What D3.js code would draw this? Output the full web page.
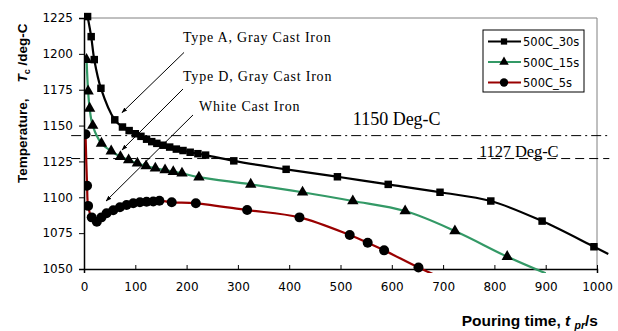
<!DOCTYPE html>
<html>
<head>
<meta charset="utf-8">
<script src="https://cdn.jsdelivr.net/npm/d3@7"></script>
<style>
  body { margin: 0; background: #fff; }
  svg { display: block; }
  .tick text { font-family: "DejaVu Sans", sans-serif; font-size: 12px; fill: #000; }
  .note { font-family: "Liberation Serif", "Times New Roman", serif; fill: #000; }
</style>
</head>
<body>
<div id="chart"></div>
<script>
// series values, [pouring time s, temperature deg-C]
const s30 = [[7,1226],[14,1212],[20,1196],[33,1176],[60,1154],[75,1149],[88,1146.5],[100,1144.3],[111,1142.5],
  [122,1140.5],[132,1138.8],[142,1137.6],[154,1136.3],[167,1135],[180,1133.6],[193,1132.6],[207,1131.4],
  [222,1130.4],[237,1129.4],[292,1125.4],[394,1119.5],[494,1114.3],[593,1109],[694,1103.5],[793,1097.4],
  [893,1083.4],[994,1065.5],[1022,1060.5]];
const s15 = [[5,1196],[8,1174],[11,1162],[17,1150],[34,1137.6],[53,1132.2],[71,1128.3],[87,1126],[104,1123.7],
  [121,1121.8],[139,1120.2],[158,1119],[174,1117.8],[191,1116.7],[224,1114],[325,1109],[426,1103.5],
  [524,1097.4],[626,1090.4],[723,1076.5],[825,1058.6],[900,1047]];
const s5 = [[3,1144],[6,1108],[8,1094],[15,1086],[25,1083],[34,1086],[44,1088.8],[57,1091],[70,1093],[83,1094.6],
  [96,1095.8],[109,1096.5],[122,1096.9],[135,1097],[147,1097.6],[171,1096.5],[218,1095.8],[318,1091.1],
  [420,1086],[518,1073.7],[553,1068.3],[585,1063],[652,1051],[680,1046.5]];
const seriesNames = ["500C_30s", "500C_15s", "500C_5s"];
const xTicks = [0,100,200,300,400,500,600,700,800,900,1000];
const yTicks = [1050,1075,1100,1125,1150,1175,1200,1225];
const refLines = [1143, 1127];
const refLabels = ["1150 Deg-C", "1127 Deg-C"];
const notes = ["Type A, Gray Cast Iron", "Type D, Gray Cast Iron", "White Cast Iron"];

const width = 618, height = 331;
const margin = {top: 18, right: 21, bottom: 62, left: 84};
const iw = width - margin.left - margin.right;
const ih = height - margin.top - margin.bottom;

const svg = d3.select("#chart").append("svg")
  .attr("width", width).attr("height", height);

const defs = svg.append("defs");
defs.append("clipPath").attr("id", "clip")
  .append("rect").attr("x", 0).attr("y", -10).attr("width", iw + 13).attr("height", ih + 14);
defs.append("marker").attr("id", "arrow")
  .attr("viewBox", "0 0 10 10").attr("refX", 9).attr("refY", 5)
  .attr("markerWidth", 6).attr("markerHeight", 6).attr("orient", "auto")
  .append("path").attr("d", "M0,1.5 L10,5 L0,8.5 Z").attr("fill", "#000");

const g = svg.append("g").attr("transform", `translate(${margin.left},${margin.top})`);

const x = d3.scaleLinear().domain([0, 1000]).range([0, iw]);
const y = d3.scaleLinear().domain([1050, 1225]).range([ih, 0]);

// frame (top and right in grey)
g.append("path")
  .attr("d", `M0,0 H${iw} V${ih}`)
  .attr("fill", "none").attr("stroke", "#808080").attr("stroke-width", 1);

// reference lines
const refStyles = ["10,4,2,4", "9,5"];
refLines.forEach((v, i) => {
  g.append("line")
    .attr("x1", x(-25)).attr("x2", x(1024))
    .attr("y1", y(v)).attr("y2", y(v))
    .attr("stroke", "#000").attr("stroke-width", 1)
    .attr("stroke-dasharray", refStyles[i]);
});

g.append("text").attr("class", "note")
  .attr("x", x(524)).attr("y", y(1150.4))
  .attr("font-size", 18).text(refLabels[0]);
g.append("text").attr("class", "note")
  .attr("x", x(770)).attr("y", y(1128))
  .attr("font-size", 16.5).attr("letter-spacing", -0.1).text(refLabels[1]);

// annotations with arrows
const arrows = [
  {text: notes[0], tx: 193, ty: 1208.3, from: [195, 1201], to: [74, 1159]},
  {text: notes[1], tx: 193, ty: 1181, from: [193, 1175.5], to: [74, 1133]},
  {text: notes[2], tx: 224, ty: 1160, from: [212.5, 1157.4], to: [43, 1097.4]}
];
arrows.forEach(a => {
  g.append("text").attr("class", "note")
    .attr("x", x(a.tx)).attr("y", y(a.ty))
    .attr("font-size", 14).attr("letter-spacing", 0.8)
    .text(a.text);
  g.append("line")
    .attr("x1", x(a.from[0])).attr("y1", y(a.from[1]))
    .attr("x2", x(a.to[0])).attr("y2", y(a.to[1]))
    .attr("stroke", "#000").attr("stroke-width", 1)
    .attr("marker-end", "url(#arrow)");
});

// axes
const xAxis = g.append("g").attr("transform", `translate(0,${ih})`)
  .call(d3.axisBottom(x).tickValues(xTicks).tickFormat(d3.format("d")).tickSize(4).tickPadding(9));
const yAxis = g.append("g")
  .call(d3.axisLeft(y).tickValues(yTicks).tickFormat(d3.format("d")).tickSize(5).tickPadding(6));
[xAxis, yAxis].forEach(ax => {
  ax.select(".domain").attr("stroke", "#000").attr("stroke-width", 1.5);
  ax.selectAll(".tick line").attr("stroke", "#000");
});
xAxis.selectAll(".tick line").attr("y1", -4).attr("y2", 0);

// series
const series = [
  {name: seriesNames[0], data: s30, color: "#000000", shape: d3.symbolSquare, size: 56},
  {name: seriesNames[1], data: s15, color: "#339966", shape: d3.symbolTriangle, size: 56},
  {name: seriesNames[2], data: s5, color: "#990000", shape: d3.symbolCircle, size: 78}
];

const line = d3.line()
  .x(d => x(d[0])).y(d => y(d[1]))
  .curve(d3.curveCatmullRom.alpha(0.5));

const plot = g.append("g").attr("clip-path", "url(#clip)");
series.slice().reverse().forEach(s => {
  plot.append("path").datum(s.data)
    .attr("d", line)
    .attr("fill", "none").attr("stroke", s.color).attr("stroke-width", 2.2);
});
series.slice().reverse().forEach(s => {
  plot.selectAll(null)
    .data(s.data.filter(d => d[0] <= 1000 && d[1] >= 1050))
    .join("path")
    .attr("transform", d => `translate(${x(d[0])},${y(d[1])})`)
    .attr("d", d3.symbol().type(s.shape).size(s.size))
    .attr("fill", "#000");
});

// legend
const lg = svg.append("g").attr("transform", "translate(483,30)");
lg.append("rect").attr("width", 101).attr("height", 62)
  .attr("fill", "#fff").attr("stroke", "#000").attr("stroke-width", 1);
series.forEach((s, i) => {
  const row = lg.append("g").attr("transform", `translate(5,${11.5 + i * 20.5})`);
  row.append("line").attr("x1", 0).attr("x2", 33)
    .attr("stroke", s.color).attr("stroke-width", 2);
  row.append("path").attr("transform", "translate(16,0)")
    .attr("d", d3.symbol().type(s.shape).size(s.size * 0.7))
    .attr("fill", "#000");
  row.append("text").attr("x", 35).attr("y", 4.5)
    .attr("font-family", "DejaVu Sans, sans-serif")
    .attr("font-size", 11.5).text(s.name);
});

// axis titles
const yTitle = svg.append("text")
  .attr("transform", "translate(27,183) rotate(-90)")
  .attr("font-family", "Liberation Sans, Arial, sans-serif")
  .attr("font-size", 13.5).attr("font-weight", "bold");
yTitle.append("tspan").text("Temperature,");
yTitle.append("tspan").attr("dx", 16).attr("font-style", "italic").text("T");
yTitle.append("tspan").attr("font-size", 9).attr("dy", 3).text("c");
yTitle.append("tspan").attr("dy", -3).text(" /deg-C");

const xTitle = svg.append("text")
  .attr("x", 598).attr("y", 326)
  .attr("text-anchor", "end")
  .attr("font-family", "Liberation Sans, Arial, sans-serif")
  .attr("font-size", 15.5).attr("font-weight", "bold");
xTitle.append("tspan").text("Pouring time, ");
xTitle.append("tspan").attr("font-style", "italic").text("t ");
xTitle.append("tspan").attr("font-style", "italic").attr("font-size", 10.5).attr("dy", 3).text("pr");
xTitle.append("tspan").attr("dy", -3).text("/s");
</script>
</body>
</html>
